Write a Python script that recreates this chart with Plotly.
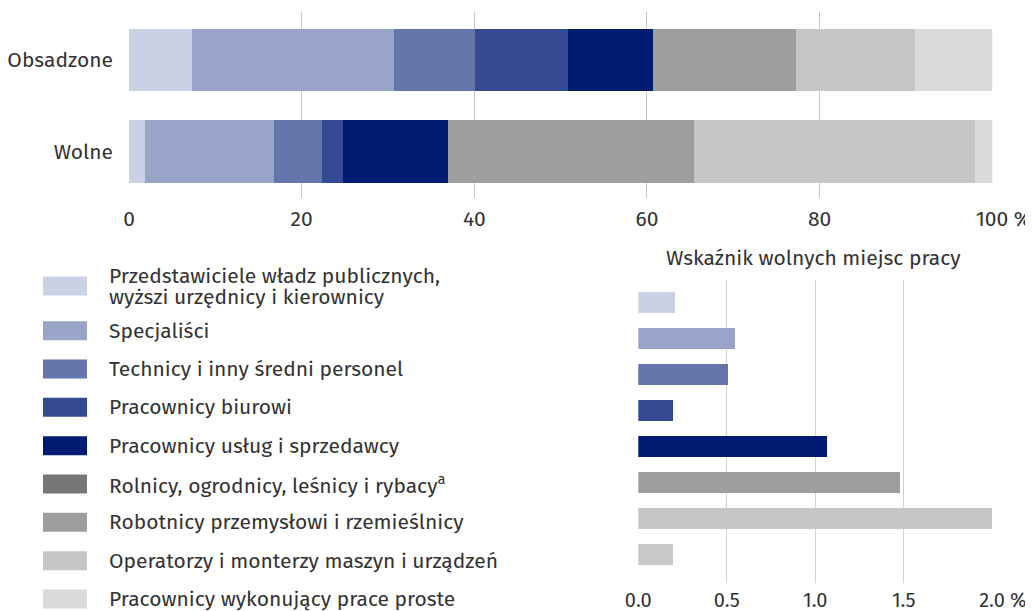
import plotly.graph_objects as go

# ---------------- data ----------------
categories = [
    "Przedstawiciele władz publicznych, wyższi urzędnicy i kierownicy",
    "Specjaliści",
    "Technicy i inny średni personel",
    "Pracownicy biurowi",
    "Pracownicy usług i sprzedawcy",
    "Rolnicy, ogrodnicy, leśnicy i rybacy<sup>a</sup>",
    "Robotnicy przemysłowi i rzemieślnicy",
    "Operatorzy i monterzy maszyn i urządzeń",
    "Pracownicy wykonujący prace proste",
]
colors = ["#cbd1e4", "#98a5c8", "#6476ab", "#344a92", "#001c72",
          "#777777", "#9d9e9e", "#c5c6c6", "#d9dada"]

bar_rows = ["Obsadzone", "Wolne"]
obsadzone = [7.3, 23.4, 9.4, 10.8, 9.8, 0.0, 16.6, 13.8, 9.0]   # % structure
wolne = [1.9, 14.9, 5.5, 2.5, 12.1, 0.0, 28.5, 32.6, 2.1]      # % structure

top_ticks = [0, 20, 40, 60, 80, 100]
top_ticktext = ["0", "20", "40", "60", "80", "\u00a0\u00a0\u00a0\u00a0100 %"]

rate_categories = [categories[i] for i in (0, 1, 2, 3, 4, 6, 7, 8)]
rate_values = [0.21, 0.55, 0.51, 0.20, 1.07, 1.48, 2.00, 0.20]
rate_colors = ["#cbd1e4", "#98a5c8", "#6476ab", "#344a92", "#001c72",
               "#9d9e9e", "#c5c6c6", "#c8c9c9"]
rate_title = "Wskaźnik wolnych miejsc pracy"
bottom_ticks = [0.0, 0.5, 1.0, 1.5, 2.0]
bottom_ticktext = ["0.0", "0.5", "1.0", "1.5", "\u00a0\u00a0\u00a0\u00a02.0\u00a0%"]

# ---------------- figure ----------------
OFF = 8                      # page (body) margin around the figure
W, H = 1033 - OFF, 611 - OFF
FONT = "Fira Sans, Open Sans, Noto Sans, sans-serif"
TXT = "#333333"
GRID = "#c6c6c6"
FS = 21

fig = go.Figure()

for i, cat in enumerate(categories):
    fig.add_trace(go.Bar(
        x=[obsadzone[i], wolne[i]], y=bar_rows, orientation="h",
        marker=dict(color=colors[i], line=dict(width=0)),
        width=0.68, name=cat, showlegend=False,
        xaxis="x", yaxis="y",
    ))

fig.add_trace(go.Bar(
    x=rate_values, y=rate_categories, orientation="h",
    marker=dict(color=rate_colors, line=dict(width=0)),
    width=0.57, showlegend=False, xaxis="x2", yaxis="y2",
))

def px_x(p):
    return (p - OFF) / W

def px_y(p):
    return 1 - (p - OFF) / H

fig.update_layout(
    width=W, height=H,
    margin=dict(l=0, r=0, t=0, b=0, autoexpand=False),
    paper_bgcolor="white", plot_bgcolor="white",
    barmode="stack", bargap=0,
    font=dict(family=FONT, color=TXT, size=FS),
    xaxis=dict(
        domain=[px_x(129), px_x(992.3)], range=[0, 100],
        tickvals=top_ticks, ticktext=top_ticktext,
        showgrid=True, gridcolor=GRID, gridwidth=1,
        zeroline=False, showline=False, ticks="",
        tickfont=dict(size=FS, color=TXT), ticklabelstandoff=6,
        anchor="y", fixedrange=True, automargin=False,
    ),
    yaxis=dict(
        domain=[px_y(197.5), px_y(12)],
        categoryorder="array", categoryarray=["Wolne", "Obsadzone"],
        range=[-0.5, 1.52],
        showgrid=False, zeroline=False, showline=False, ticks="",
        tickfont=dict(size=FS, color=TXT), ticklabelstandoff=15,
        anchor="x", fixedrange=True, automargin=False,
    ),
    xaxis2=dict(
        domain=[px_x(638.3), px_x(992.3)], range=[0, 2],
        tickvals=bottom_ticks, ticktext=bottom_ticktext,
        showgrid=True, gridcolor="#d2d2d2", gridwidth=1,
        zeroline=False, showline=False, ticks="",
        tickfont=dict(size=FS - 1, color=TXT), ticklabelstandoff=3,
        anchor="y2", fixedrange=True, automargin=False,
    ),
    yaxis2=dict(
        domain=[px_y(583), px_y(280)],
        categoryorder="array", categoryarray=rate_categories,
        range=[7.79, -0.625],
        showticklabels=False, showgrid=False, zeroline=False,
        showline=False, ticks="",
        anchor="x2", fixedrange=True, automargin=False,
    ),
)

annotations = [dict(
    text=rate_title, x=px_x(813), y=px_y(258), xref="paper", yref="paper",
    xanchor="center", yanchor="middle", showarrow=False,
    font=dict(size=FS, color=TXT),
)]
shapes = []

# custom legend (swatches + labels)
row_y = [286] + [330.7 + k * 38.33 for k in range(len(categories) - 1)]
for i, cat in enumerate(categories):
    yc = row_y[i]
    shapes.append(dict(
        type="rect", xref="paper", yref="paper",
        x0=px_x(43), x1=px_x(87), y0=px_y(yc + 9.5), y1=px_y(yc - 9.5),
        fillcolor=colors[i], line=dict(width=0),
    ))
    if i == 0:
        parts = cat.split(", ")
        lines = [parts[0] + ",", parts[1]]
        for k, ln in enumerate(lines):
            annotations.append(dict(
                text=ln, x=px_x(107), y=px_y(yc - 10.5 + k * 21),
                xref="paper", yref="paper", xanchor="left", yanchor="middle",
                showarrow=False, font=dict(size=FS, color=TXT),
            ))
    else:
        annotations.append(dict(
            text=cat, x=px_x(107), y=px_y(yc), xref="paper", yref="paper",
            xanchor="left", yanchor="middle", showarrow=False,
            font=dict(size=FS, color=TXT),
        ))

fig.update_layout(annotations=annotations, shapes=shapes)

fig.write_html("out.html")
